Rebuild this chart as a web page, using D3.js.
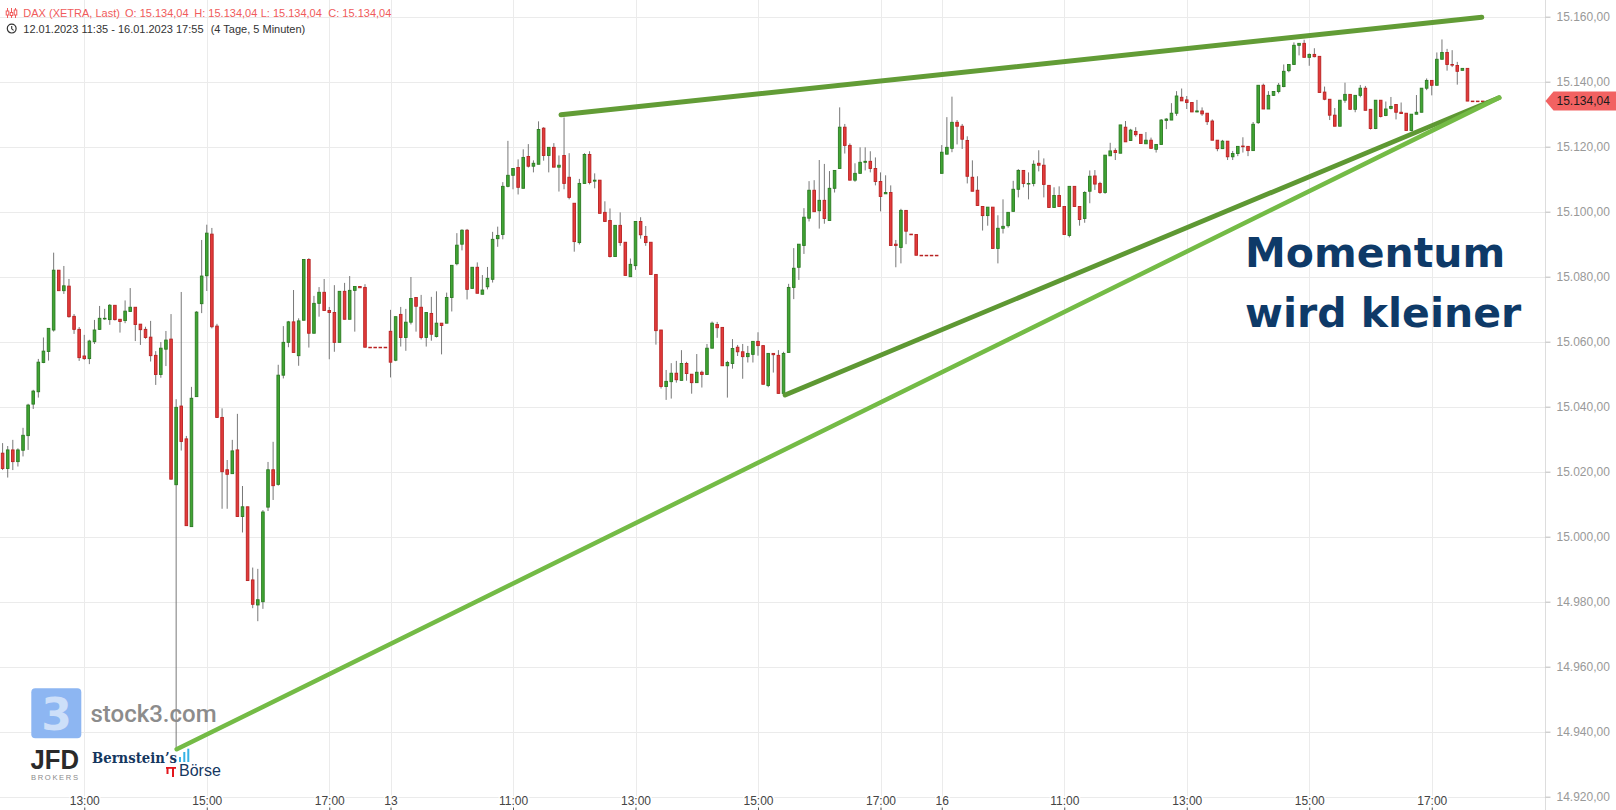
<!DOCTYPE html>
<html>
<head>
<meta charset="utf-8">
<title>DAX (XETRA, Last)</title>
<script src="https://cdn.jsdelivr.net/npm/d3@7"></script>
<style>
  body { margin: 0; background: #fff; }
  svg { display: block; font-family: "Liberation Sans", Arial, sans-serif; }
</style>
</head>
<body>
<div id="chart"></div>
<script>
// sessions on the chart, 5 minute bars
const sessions = [
    { day: "12", start: "11:35", bars: 77 },
    { day: "13", start: "09:00", bars: 108 },
    { day: "16", start: "09:00", bars: 108 }
];

const opens = [
    15027.0, 15025.7, 15021.0, 15026.7, 15023.1, 15026.6, 15031.1, 15040.8, 15044.6, 15053.6,
    15057.0, 15063.6, 15082.0, 15075.7, 15077.1, 15067.8, 15063.8, 15055.6, 15054.8, 15060.0,
    15063.8, 15067.0, 15066.8, 15071.2, 15066.9, 15066.5, 15069.3, 15070.6, 15065.4, 15063.8,
    15061.4, 15055.8, 15049.9, 15057.7, 15060.8, 15016.0, 15040.2, 15030.1, 15003.1, 15043.1,
    15071.7, 15080.3, 15093.1, 15064.8, 15036.7, 15020.6, 15019.4, 15026.7, 15006.2, 15009.2,
    14986.7, 14979.0, 14980.0, 15009.1, 15020.6, 15016.1, 15049.7, 15059.8, 15066.1, 15055.7,
    15066.6, 15085.3, 15062.6, 15071.8, 15075.2, 15069.6, 15069.0, 15059.8, 15075.5, 15066.9,
    15075.8, 15077.0, 15076.7, 15058.3, 15058.3, 15058.3, 15058.3, 15063.2, 15054.3, 15068.4,
    15061.3, 15066.0, 15073.6, 15070.6, 15061.3, 15068.7, 15061.6, 15065.7, 15065.7, 15073.6,
    15084.0, 15090.0, 15094.3, 15076.4, 15082.9, 15074.6, 15076.9, 15079.2, 15091.7, 15093.0,
    15107.8, 15111.2, 15113.6, 15107.2, 15117.0, 15114.0, 15114.6, 15125.7, 15117.3, 15119.8,
    15113.7, 15117.3, 15110.6, 15102.6, 15090.5, 15108.7, 15117.6, 15109.4, 15109.7, 15099.8,
    15097.3, 15086.2, 15095.8, 15090.6, 15080.0, 15083.4, 15097.0, 15092.4, 15090.6, 15080.7,
    15063.6, 15046.2, 15047.7, 15050.3, 15048.1, 15053.3, 15050.0, 15047.4, 15050.6, 15049.9,
    15058.0, 15065.3, 15064.4, 15052.6, 15053.3, 15058.3, 15056.9, 15055.4, 15056.1, 15060.1,
    15058.8, 15046.5, 15056.4, 15055.8, 15044.1, 15056.7, 15076.7, 15082.9, 15089.6, 15098.0,
    15106.6, 15100.3, 15103.5, 15097.3, 15107.2, 15113.3, 15126.0, 15120.4, 15109.7, 15111.8,
    15115.2, 15115.5, 15113.3, 15109.3, 15105.5, 15105.9, 15090.0, 15089.0, 15100.4, 15093.1,
    15093.0, 15086.6, 15086.6, 15086.6, 15086.6, 15111.8, 15117.7, 15119.5, 15127.5, 15126.3,
    15121.9, 15110.6, 15106.6, 15101.6, 15098.8, 15101.4, 15088.7, 15094.9, 15095.7, 15100.1,
    15106.9, 15112.7, 15108.6, 15108.7, 15114.9, 15114.3, 15108.1, 15101.3, 15105.0, 15101.6,
    15092.7, 15107.8, 15101.6, 15097.9, 15106.3, 15111.0, 15108.7, 15105.9, 15117.2, 15118.8,
    15118.0, 15126.0, 15121.9, 15124.7, 15123.8, 15120.9, 15122.0, 15119.2, 15120.7, 15128.1,
    15128.2, 15130.3, 15135.2, 15134.4, 15133.6, 15130.7, 15131.0, 15130.3, 15127.9, 15122.0,
    15119.4, 15121.7, 15116.9, 15117.9, 15120.2, 15120.1, 15118.8, 15127.4, 15138.9, 15131.6,
    15135.8, 15137.0, 15138.5, 15143.4, 15145.3, 15151.2, 15151.8, 15147.5, 15148.4, 15147.8,
    15136.8, 15134.6, 15129.7, 15126.3, 15134.3, 15136.1, 15131.5, 15135.8, 15138.0, 15131.5,
    15125.6, 15134.3, 15129.6, 15131.8, 15133.0, 15130.6, 15130.3, 15125.0, 15130.0, 15130.6,
    15138.0, 15140.4, 15138.9, 15146.9, 15149.0, 15145.3, 15145.0, 15143.5, 15144.1, 15134.04,
    15134.04, 15134.04, 15134.04
];

const highs = [
    15028.0, 15028.8, 15027.9, 15029.8, 15027.2, 15033.5, 15040.9, 15045.2, 15054.7, 15061.3,
    15064.1, 15087.4, 15082.0, 15083.3, 15079.3, 15068.5, 15064.5, 15062.1, 15060.6, 15066.7,
    15071.0, 15070.1, 15071.6, 15071.2, 15066.9, 15072.7, 15076.5, 15070.6, 15065.4, 15064.6,
    15066.4, 15057.1, 15059.9, 15063.3, 15068.5, 15042.3, 15075.3, 15031.0, 15046.1, 15069.4,
    15091.3, 15096.0, 15095.0, 15065.5, 15039.5, 15023.6, 15029.8, 15037.8, 15015.6, 15009.2,
    14990.5, 14990.1, 15008.2, 15023.0, 15029.2, 15052.9, 15064.8, 15066.4, 15075.9, 15067.2,
    15085.3, 15085.7, 15074.1, 15076.8, 15079.3, 15070.7, 15077.4, 15075.5, 15078.1, 15080.2,
    15077.0, 15077.0, 15077.7, 15058.3, 15058.3, 15058.3, 15058.3, 15069.8, 15067.7, 15070.7,
    15070.1, 15079.9, 15073.6, 15074.4, 15069.0, 15073.8, 15075.5, 15065.7, 15075.1, 15083.5,
    15093.4, 15094.6, 15094.7, 15082.9, 15084.4, 15080.5, 15083.0, 15093.8, 15095.4, 15109.1,
    15121.8, 15113.3, 15116.1, 15119.2, 15120.8, 15115.8, 15127.8, 15126.0, 15119.8, 15121.1,
    15117.3, 15129.0, 15118.0, 15102.6, 15110.1, 15118.0, 15118.6, 15111.8, 15109.7, 15103.2,
    15101.0, 15095.8, 15099.8, 15090.6, 15085.6, 15097.0, 15098.3, 15095.6, 15090.6, 15080.7,
    15063.6, 15051.3, 15053.4, 15054.1, 15057.4, 15053.8, 15050.0, 15056.2, 15051.1, 15059.3,
    15066.2, 15066.1, 15064.4, 15054.1, 15060.8, 15059.0, 15059.3, 15058.7, 15060.1, 15062.9,
    15058.8, 15056.4, 15056.4, 15057.4, 15056.9, 15077.8, 15088.8, 15090.0, 15101.1, 15109.4,
    15109.7, 15115.9, 15114.7, 15112.5, 15112.7, 15132.1, 15127.0, 15121.0, 15114.9, 15119.8,
    15119.8, 15118.6, 15116.7, 15112.1, 15111.2, 15108.1, 15091.3, 15100.9, 15100.4, 15093.1,
    15093.0, 15086.6, 15086.6, 15086.6, 15086.6, 15120.5, 15129.1, 15135.4, 15128.2, 15127.0,
    15123.2, 15115.8, 15110.9, 15101.6, 15101.4, 15101.4, 15098.9, 15103.8, 15099.8, 15109.5,
    15113.1, 15112.7, 15112.1, 15115.8, 15118.9, 15116.4, 15108.1, 15107.5, 15107.8, 15101.6,
    15107.8, 15107.8, 15101.6, 15106.3, 15112.7, 15112.8, 15109.2, 15117.4, 15121.2, 15119.5,
    15126.7, 15127.9, 15125.5, 15126.0, 15123.8, 15124.5, 15122.8, 15120.7, 15128.5, 15128.8,
    15133.4, 15137.1, 15137.9, 15135.6, 15133.6, 15134.4, 15132.1, 15130.3, 15128.4, 15122.0,
    15122.1, 15121.7, 15118.7, 15120.1, 15122.9, 15120.1, 15127.6, 15138.9, 15139.4, 15137.1,
    15137.0, 15139.6, 15145.3, 15145.3, 15152.1, 15151.8, 15152.9, 15148.7, 15150.3, 15147.8,
    15138.5, 15134.6, 15131.9, 15134.3, 15139.7, 15136.1, 15135.8, 15139.0, 15138.7, 15131.5,
    15134.3, 15134.3, 15133.9, 15135.3, 15133.0, 15133.6, 15130.3, 15130.0, 15135.9, 15138.0,
    15141.0, 15140.4, 15149.0, 15153.0, 15150.1, 15149.7, 15146.1, 15144.1, 15144.1, 15134.04,
    15134.04, 15134.04, 15134.04
];

const lows = [
    15024.5, 15020.5, 15018.2, 15020.5, 15021.6, 15024.7, 15026.7, 15039.3, 15042.8, 15053.4,
    15054.2, 15063.1, 15075.7, 15074.7, 15067.4, 15062.4, 15054.1, 15054.4, 15053.1, 15059.3,
    15063.6, 15066.7, 15065.2, 15066.5, 15062.8, 15065.7, 15069.3, 15060.2, 15059.0, 15060.9,
    15053.9, 15046.7, 15048.9, 15052.5, 15017.7, 14935.0, 15026.5, 15003.4, 15003.1, 15043.1,
    15068.8, 15075.6, 15064.1, 15036.7, 15008.6, 15008.6, 15019.4, 15006.2, 15001.3, 14986.5,
    14978.0, 14974.0, 14977.8, 15007.9, 15011.3, 15015.7, 15048.7, 15058.3, 15056.7, 15052.6,
    15066.6, 15058.2, 15062.6, 15067.7, 15069.6, 15054.6, 15056.9, 15059.8, 15066.9, 15066.9,
    15063.1, 15076.6, 15058.3, 15058.3, 15058.3, 15058.3, 15058.3, 15049.0, 15054.0, 15058.5,
    15057.2, 15065.3, 15063.1, 15060.7, 15058.5, 15060.3, 15061.3, 15056.1, 15065.7, 15069.3,
    15083.5, 15088.1, 15073.0, 15076.4, 15074.9, 15074.6, 15076.1, 15078.2, 15089.2, 15091.5,
    15107.5, 15106.9, 15105.3, 15107.2, 15113.6, 15112.1, 15114.6, 15115.7, 15112.1, 15113.7,
    15106.2, 15106.9, 15103.8, 15087.7, 15089.9, 15108.7, 15108.4, 15107.2, 15099.5, 15097.0,
    15085.9, 15086.2, 15089.5, 15080.4, 15080.0, 15082.1, 15091.7, 15089.5, 15080.7, 15059.1,
    15045.6, 15042.1, 15042.5, 15047.4, 15048.1, 15048.0, 15044.0, 15047.4, 15045.9, 15049.9,
    15058.0, 15061.2, 15052.6, 15042.8, 15051.7, 15055.6, 15048.6, 15053.6, 15053.6, 15055.7,
    15046.9, 15046.0, 15050.5, 15044.1, 15044.1, 15056.7, 15073.1, 15079.0, 15087.0, 15097.0,
    15100.0, 15094.8, 15096.3, 15097.3, 15105.9, 15113.3, 15117.9, 15109.7, 15109.2, 15111.8,
    15112.7, 15112.1, 15108.1, 15100.1, 15105.5, 15089.6, 15082.9, 15084.1, 15090.0, 15092.9,
    15086.6, 15086.6, 15086.6, 15086.6, 15086.6, 15111.8, 15117.7, 15118.3, 15120.7, 15119.3,
    15108.7, 15106.3, 15101.9, 15094.2, 15095.7, 15088.7, 15084.1, 15093.3, 15095.1, 15100.1,
    15104.4, 15107.5, 15103.8, 15107.8, 15112.4, 15104.4, 15101.3, 15101.3, 15101.6, 15093.0,
    15092.1, 15101.6, 15095.7, 15096.6, 15102.6, 15106.7, 15105.5, 15105.5, 15117.2, 15115.9,
    15118.0, 15121.5, 15121.8, 15123.1, 15121.0, 15120.9, 15119.5, 15118.2, 15120.7, 15125.4,
    15128.2, 15129.5, 15134.1, 15131.6, 15130.7, 15130.6, 15129.5, 15126.7, 15122.0, 15118.6,
    15119.3, 15115.9, 15115.9, 15117.1, 15118.2, 15117.1, 15118.8, 15127.0, 15131.6, 15131.6,
    15135.6, 15136.4, 15138.3, 15142.9, 15145.3, 15148.1, 15147.5, 15144.9, 15147.5, 15136.7,
    15134.3, 15128.2, 15126.3, 15126.3, 15133.5, 15131.5, 15130.6, 15135.2, 15131.2, 15125.3,
    15125.4, 15129.0, 15129.4, 15131.5, 15128.4, 15130.2, 15125.0, 15124.7, 15130.0, 15130.6,
    15137.4, 15135.8, 15138.9, 15146.9, 15143.4, 15144.5, 15139.1, 15143.5, 15134.04, 15134.04,
    15134.04, 15134.04, 15134.04
];

const closes = [
    15025.5, 15021.0, 15026.7, 15023.1, 15026.7, 15031.2, 15040.5, 15044.8, 15053.7, 15057.1,
    15064.1, 15082.0, 15075.7, 15077.2, 15067.7, 15063.8, 15055.1, 15054.8, 15060.2, 15063.6,
    15067.2, 15067.2, 15071.2, 15066.8, 15066.2, 15069.4, 15070.6, 15065.3, 15063.7, 15061.3,
    15055.7, 15049.9, 15058.0, 15060.5, 15017.7, 15039.8, 15029.3, 15003.4, 15042.6, 15069.1,
    15080.2, 15093.4, 15064.6, 15036.7, 15020.0, 15019.2, 15026.4, 15006.2, 15009.2, 14986.5,
    14979.2, 14980.6, 15007.6, 15020.6, 15015.7, 15049.7, 15059.8, 15066.1, 15056.7, 15066.4,
    15085.3, 15062.6, 15071.8, 15075.2, 15069.6, 15069.0, 15059.8, 15075.5, 15066.9, 15075.8,
    15077.0, 15076.6, 15058.3, 15058.3, 15058.3, 15058.3, 15058.3, 15053.7, 15067.7, 15061.3,
    15066.0, 15073.3, 15070.9, 15061.3, 15069.0, 15062.3, 15065.7, 15065.0, 15073.6, 15083.5,
    15089.7, 15094.3, 15076.1, 15082.9, 15074.9, 15075.9, 15079.5, 15091.5, 15092.7, 15107.8,
    15111.2, 15113.3, 15107.5, 15116.7, 15114.0, 15114.9, 15125.3, 15117.3, 15119.8, 15113.7,
    15114.3, 15108.7, 15104.4, 15090.8, 15108.7, 15117.6, 15109.0, 15109.7, 15099.5, 15097.0,
    15086.2, 15095.8, 15090.5, 15080.4, 15083.8, 15097.0, 15092.9, 15090.5, 15080.7, 15063.4,
    15046.2, 15047.8, 15050.3, 15048.3, 15053.3, 15050.2, 15047.4, 15050.6, 15049.9, 15058.0,
    15065.7, 15064.3, 15052.6, 15053.6, 15057.9, 15056.9, 15055.4, 15056.4, 15060.1, 15058.8,
    15046.9, 15056.4, 15056.0, 15044.1, 15056.4, 15076.7, 15082.6, 15090.0, 15098.3, 15106.6,
    15100.0, 15103.5, 15097.9, 15107.2, 15112.7, 15126.0, 15120.4, 15109.7, 15111.8, 15115.2,
    15115.5, 15113.3, 15109.3, 15104.7, 15105.9, 15089.6, 15089.6, 15100.4, 15094.0, 15092.9,
    15086.6, 15086.6, 15086.6, 15086.6, 15086.6, 15118.3, 15119.8, 15127.5, 15126.3, 15122.3,
    15110.9, 15106.3, 15101.9, 15098.8, 15101.4, 15088.7, 15094.9, 15095.5, 15099.8, 15106.9,
    15112.7, 15108.7, 15108.7, 15114.6, 15114.3, 15108.4, 15101.3, 15105.0, 15101.6, 15093.0,
    15107.8, 15101.6, 15097.6, 15105.9, 15110.9, 15108.5, 15105.9, 15117.4, 15118.7, 15118.2,
    15126.7, 15121.5, 15125.1, 15123.7, 15121.0, 15122.0, 15119.5, 15120.7, 15128.2, 15128.5,
    15130.3, 15135.6, 15134.1, 15133.6, 15130.7, 15131.0, 15130.1, 15127.7, 15122.0, 15119.4,
    15121.7, 15116.9, 15117.9, 15120.1, 15120.0, 15118.8, 15126.9, 15138.9, 15131.6, 15135.8,
    15137.0, 15138.9, 15143.2, 15145.3, 15151.2, 15151.8, 15147.5, 15148.4, 15147.7, 15136.7,
    15134.6, 15129.7, 15126.3, 15134.3, 15136.1, 15131.5, 15135.8, 15138.0, 15131.2, 15125.6,
    15134.3, 15129.3, 15131.6, 15132.4, 15130.6, 15130.2, 15125.0, 15130.0, 15130.6, 15138.0,
    15140.4, 15138.9, 15146.9, 15149.0, 15145.3, 15145.1, 15143.2, 15144.1, 15134.04, 15134.04,
    15134.04, 15134.04, 15134.04
];

// y axis tick values
const priceTicks = [14920, 14940, 14960, 14980, 15000, 15020, 15040, 15060, 15080, 15100, 15120, 15140, 15160];

// hand drawn trend lines: [bar index, price]
const trendUpper = [[110.4, 15129.8], [290.8, 15159.8]];
const trendMiddle = [[154.3, 15043.6], [294.2, 15135.1]];
const trendLower = [[35.1, 14934.6], [294.2, 15135.1]];

const lastPrice = 15134.04;


const W = 1616, H = 810;
const axisX = 1545.5;

const de = d3.formatLocale({ decimal: ",", thousands: ".", grouping: [3], currency: ["", " €"] });
const fmtPrice = de.format(",.2f");

// build the bars from the sessions
const candles = [];
sessions.forEach(s => {
    let [hh, mm] = s.start.split(":").map(Number);
    for (let k = 0; k < s.bars; k++) {
        let t = hh * 60 + mm + k * 5;
        let i = candles.length;
        candles.push({
            i: i, day: s.day, first: k === 0,
            hh: Math.floor(t / 60), mm: t % 60,
            o: opens[i], h: highs[i], l: lows[i], c: closes[i]
        });
    }
});

const svg = d3.select("#chart").append("svg")
    .attr("width", W)
    .attr("height", H);

const x = d3.scaleLinear().domain([0, candles.length - 1]).range([-2.5, 1487.9]);
const y = d3.scaleLinear().domain([14920, 15160]).range([796.7, 16.7]);

// x ticks: day starts and odd full hours
const xTicks = candles.filter(d => (d.first && d.hh === 9 && d.mm === 0) ||
    (d.mm === 0 && d.hh % 2 === 1 && d.hh >= 11));

// grid
const grid = svg.append("g");
grid.selectAll(".hgrid")
    .data(priceTicks)
    .enter()
    .append("line")
    .attr("x1", 0).attr("x2", axisX)
    .attr("y1", d => Math.round(y(d)) + 0.5)
    .attr("y2", d => Math.round(y(d)) + 0.5)
    .attr("stroke", "#ebebeb");
grid.selectAll(".vgrid")
    .data(xTicks)
    .enter()
    .append("line")
    .attr("x1", d => Math.round(x(d.i)) + 0.5)
    .attr("x2", d => Math.round(x(d.i)) + 0.5)
    .attr("y1", 0).attr("y2", 807)
    .attr("stroke", "#ebebeb");

// candles
const up = { fill: "#40a534", stroke: "#2b7a22" };
const down = { fill: "#e23b3b", stroke: "#b82222" };

const cg = svg.append("g");
cg.selectAll(".wick")
    .data(candles.filter(d => d.h > d.l))
    .enter()
    .append("line")
    .attr("x1", d => x(d.i)).attr("x2", d => x(d.i))
    .attr("y1", d => y(d.h)).attr("y2", d => y(d.l))
    .attr("stroke", "#787878")
    .attr("stroke-width", 1);

cg.selectAll(".body")
    .data(candles)
    .enter()
    .append("rect")
    .attr("x", d => x(d.i) - 1.3)
    .attr("width", 2.6)
    .attr("y", d => y(Math.max(d.o, d.c)))
    .attr("height", d => Math.max(0.6, Math.abs(y(d.o) - y(d.c))))
    .attr("fill", d => d.c > d.o ? up.fill : down.fill)
    .attr("stroke", d => d.c > d.o ? up.stroke : down.stroke)
    .attr("stroke-width", 0.9);

// trend lines
const line = d3.line().x(d => x(d[0])).y(d => y(d[1]));
const tl = svg.append("g").attr("fill", "none").attr("stroke-linecap", "round");
tl.append("path").attr("d", line(trendUpper)).attr("stroke", "#629c36").attr("stroke-width", 5);
tl.append("path").attr("d", line(trendMiddle)).attr("stroke", "#5e9833").attr("stroke-width", 4.8);
tl.append("path").attr("d", line(trendLower)).attr("stroke", "#74bb46").attr("stroke-width", 4.5);

// right price axis
svg.append("line")
    .attr("x1", axisX).attr("x2", axisX)
    .attr("y1", 0).attr("y2", H)
    .attr("stroke", "#dddddd");

const yAxis = svg.append("g")
    .attr("transform", `translate(${axisX},0)`)
    .call(d3.axisRight(y).tickValues(priceTicks).tickFormat(fmtPrice).tickSize(5).tickPadding(6));
yAxis.select(".domain").remove();
yAxis.selectAll("line").attr("stroke", "#bbbbbb");
yAxis.selectAll("text")
    .attr("fill", "#999999")
    .style("font-size", "12px")
    .style("font-family", "'Liberation Sans', Arial, sans-serif");

// last price marker
const ly = y(lastPrice);
svg.append("path")
    .attr("d", `M${axisX},${ly} L${axisX + 8},${ly - 9.5} L${W},${ly - 9.5} L${W},${ly + 9.5} L${axisX + 8},${ly + 9.5} Z`)
    .attr("fill", "#f26262");
svg.append("text")
    .attr("x", 1556.5).attr("y", ly + 4.3)
    .attr("font-size", 12)
    .attr("fill", "#1b1b1b")
    .text(fmtPrice(lastPrice));

// time axis at the bottom
const xAxis = svg.append("g")
    .attr("transform", `translate(0,${H})`)
    .call(d3.axisTop(x)
        .tickValues(xTicks.map(d => d.i))
        .tickSize(2.5)
        .tickPadding(3)
        .tickFormat(i => {
            let d = candles[i];
            return (d.first && d.hh === 9) ? d.day : d3.format("02")(d.hh) + ":00";
        }));
xAxis.select(".domain").remove();
xAxis.selectAll("line").attr("stroke", "#555");
xAxis.selectAll("text")
    .attr("fill", "#444")
    .attr("stroke", "#fff")
    .attr("stroke-width", 3)
    .attr("paint-order", "stroke")
    .style("font-size", "12px")
    .style("font-family", "'Liberation Sans', Arial, sans-serif");

// header
const head = svg.append("g").attr("font-size", 11);
const icon = head.append("g").attr("stroke", "#f05b5b").attr("fill", "#f05b5b");
[7.5, 11.5, 15.5].forEach((cx, k) => {
    icon.append("line").attr("x1", cx).attr("x2", cx).attr("y1", 8).attr("y2", 18).attr("stroke-width", 1);
    icon.append("rect").attr("x", cx - 1.3).attr("width", 2.6)
        .attr("y", [11, 12.5, 10][k]).attr("height", [4, 3, 5][k])
        .attr("fill", "#fff").attr("stroke-width", 1);
});
const headItems = [
    { x: 23.3, t: "DAX (XETRA, Last)" },
    { x: 125, t: "O: 15.134,04" },
    { x: 194.3, t: "H: 15.134,04" },
    { x: 260.7, t: "L: 15.134,04" },
    { x: 328.3, t: "C: 15.134,04" }
];
head.selectAll(".hi")
    .data(headItems)
    .enter()
    .append("text")
    .attr("x", d => d.x).attr("y", 16.6)
    .attr("fill", "#f05b5b")
    .text(d => d.t);

head.append("circle").attr("cx", 11.7).attr("cy", 28.6).attr("r", 4.4)
    .attr("fill", "none").attr("stroke", "#333").attr("stroke-width", 1.2);
head.append("path").attr("d", "M11.7,25.9 V28.8 L13.6,30.4")
    .attr("fill", "none").attr("stroke", "#333").attr("stroke-width", 1.1);
head.append("text").attr("x", 23.3).attr("y", 32.6).attr("fill", "#333")
    .text("12.01.2023 11:35 - 16.01.2023 17:55");
head.append("text").attr("x", 210.7).attr("y", 32.6).attr("fill", "#333")
    .text("(4 Tage, 5 Minuten)");

// comment
const note = svg.append("g")
    .attr("font-family", "'DejaVu Sans', Verdana, sans-serif")
    .attr("font-weight", "bold")
    .attr("font-size", 41)
    .attr("fill", "#0e3a68");
note.append("text").attr("x", 1245).attr("y", 267.3).text("Momentum");
note.append("text").attr("x", 1245).attr("y", 327).text("wird kleiner");

// logos
const logo = svg.append("g");
logo.append("rect").attr("x", 31.3).attr("y", 688.3).attr("width", 50).attr("height", 50)
    .attr("rx", 4).attr("fill", "#8db6f2");
logo.append("text").attr("x", 56.5).attr("y", 730).attr("text-anchor", "middle")
    .attr("font-family", "'DejaVu Sans', sans-serif").attr("font-weight", "bold")
    .attr("font-size", 44).attr("fill", "#cddff9").text("3");
logo.append("text").attr("x", 90.5).attr("y", 722)
    .attr("font-family", "Roboto, sans-serif").attr("font-weight", 500)
    .attr("font-size", 24).attr("fill", "#8c8c8c").text("stock3.com");

logo.append("text").attr("x", 30.5).attr("y", 768.5)
    .attr("font-weight", "bold").attr("font-size", 28)
    .attr("textLength", 48.5).attr("lengthAdjust", "spacingAndGlyphs")
    .attr("fill", "#2a2a2a").text("JFD");
logo.append("text").attr("x", 31).attr("y", 779.5)
    .attr("font-size", 7.6).attr("textLength", 47)
    .attr("fill", "#8a8a8a").text("BROKERS");

logo.append("text").attr("x", 92).attr("y", 762.7)
    .attr("font-family", "'DejaVu Serif', serif").attr("font-weight", "bold")
    .attr("font-size", 14).attr("textLength", 85).attr("lengthAdjust", "spacingAndGlyphs")
    .attr("fill", "#15375f").text("Bernstein\u2019s");
[[179, 757, 5], [183.3, 752, 10], [187.3, 748.7, 13.3]].forEach(b => {
    logo.append("rect").attr("x", b[0]).attr("y", b[1]).attr("width", 2).attr("height", b[2]).attr("fill", "#35b2e6");
});
logo.append("rect").attr("x", 166).attr("y", 767).attr("width", 10).attr("height", 1.8).attr("fill", "#e3161c");
logo.append("rect").attr("x", 166.5).attr("y", 767).attr("width", 2).attr("height", 7).attr("fill", "#e3161c");
logo.append("rect").attr("x", 172).attr("y", 767).attr("width", 2).attr("height", 10).attr("fill", "#e3161c");
logo.append("text").attr("x", 179).attr("y", 776)
    .attr("font-size", 16).attr("fill", "#15375f").text("B\u00f6rse");
</script>
</body>
</html>
